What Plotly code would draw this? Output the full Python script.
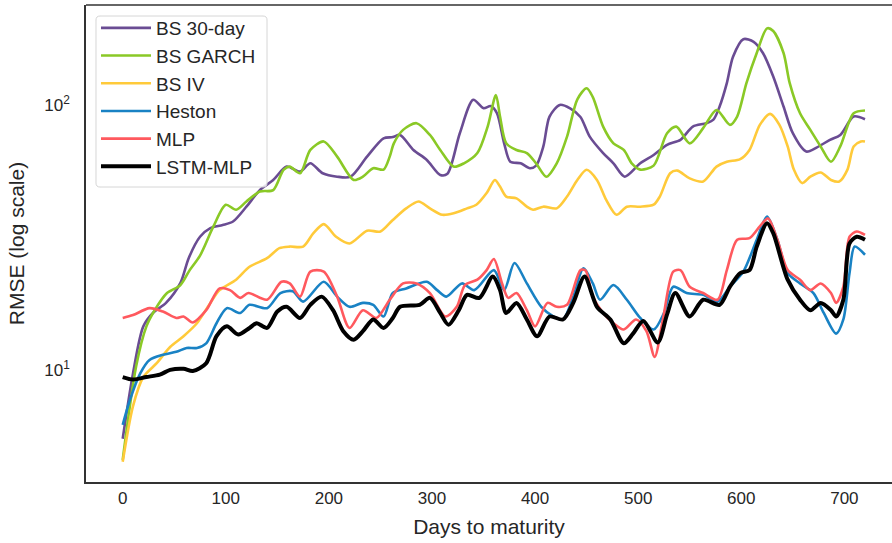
import plotly.graph_objects as go

# ---- data (days to maturity, RMSE) ----
bs30_days = [0, 10, 20, 30, 42, 56, 64, 75, 85, 97, 107, 120, 133, 146, 159, 172, 182, 194, 208, 221, 237, 253, 262, 269, 282, 295, 308, 315, 327, 340, 350, 357, 363, 370, 376, 386, 395, 401, 408, 414, 424, 434, 444, 453, 466, 476, 487, 502, 515, 528, 541, 553, 566, 573, 579, 586, 592, 602, 612, 621, 631, 641, 650, 663, 673, 686, 696, 709, 720]
bs30_rmse = [5.5, 9.7, 14.6, 16.5, 17.9, 21.3, 26.4, 31.8, 34.3, 35.2, 36.3, 41.3, 47.7, 52.1, 58.5, 56, 60.2, 55.2, 53.6, 53.6, 63.8, 74.8, 75.6, 77, 67.6, 62, 54.4, 55, 78.2, 104.5, 97.2, 99, 93, 71.6, 61, 60.2, 57.7, 59, 69.7, 90.3, 100, 97, 90, 75.9, 65.8, 60.2, 53.6, 60.2, 64.7, 70.7, 73.8, 82.8, 85.3, 88, 98.6, 120.8, 152, 177, 173, 157, 128, 98.6, 78.2, 66.7, 69, 73.8, 77, 90.4, 88.3]

garch_days = [0, 13, 23, 31, 43, 56, 65, 75, 88, 100, 110, 120, 133, 146, 156, 162, 172, 182, 195, 208, 224, 233, 243, 253, 259, 263, 272, 285, 298, 308, 321, 331, 344, 354, 362, 366, 372, 382, 392, 401, 411, 421, 431, 441, 450, 456, 466, 476, 486, 494, 502, 515, 528, 537, 550, 563, 576, 589, 596, 605, 615, 625, 631, 641, 647, 657, 667, 677, 687, 696, 709, 720]
garch_rmse = [4.57, 10.3, 14.6, 16.8, 19.5, 20.9, 23.8, 27, 34.8, 42, 40.2, 43.2, 47.1, 47.7, 56.9, 58.5, 55.2, 67.6, 72.8, 63.8, 52.1, 53.6, 57.7, 57, 63.8, 71.6, 80.5, 85.3, 77, 67.6, 58.5, 60.2, 65.8, 82.8, 109, 90.4, 71.6, 67.6, 65.8, 60.2, 53.6, 60.2, 75.9, 105, 115.6, 107, 82.8, 71.6, 67.6, 60, 57, 59, 78.2, 82.8, 71.6, 81.7, 95.7, 84.1, 90.4, 120.8, 157, 194.5, 190, 157, 120.8, 93, 80.5, 69.7, 61, 69.7, 93, 95.3]

iv_days = [0, 10, 20, 33, 46, 59, 72, 85, 94, 110, 123, 140, 152, 162, 175, 185, 195, 207, 220, 237, 250, 262, 275, 287, 298, 310, 321, 334, 343, 353, 361, 366, 372, 382, 392, 398, 408, 421, 431, 441, 450, 460, 469, 479, 489, 502, 515, 521, 531, 538, 550, 563, 576, 586, 599, 608, 618, 628, 637, 645, 651, 659, 667, 677, 687, 695, 703, 709, 716, 720]
iv_rmse = [4.5, 7.3, 9.4, 10.6, 12.2, 13.4, 15, 17.9, 20, 21.9, 24.5, 26.4, 28.8, 29.2, 29.2, 32.8, 35.5, 31.8, 30, 33.5, 33.3, 36.8, 40.7, 43.2, 40.7, 38.5, 39, 40.7, 42, 46.5, 52.1, 49.2, 45.1, 44.4, 41.3, 40.2, 41.3, 40.7, 45.1, 52.1, 56.9, 52.1, 43.8, 38.5, 41.3, 41.3, 42, 45.1, 55.2, 56.5, 52.8, 51.4, 58.5, 61, 62.4, 67.6, 84.1, 92.5, 84.1, 69.7, 57, 50.7, 53.6, 55.6, 52.1, 51.4, 57, 69.7, 72.8, 72.8]

heston_days = [0, 7, 17, 26, 39, 52, 62, 72, 81, 91, 101, 114, 123, 140, 153, 165, 175, 195, 208, 220, 233, 243, 253, 262, 275, 295, 305, 314, 329, 341, 360, 370, 380, 392, 406, 418, 427, 437, 447, 456, 463, 476, 489, 502, 515, 525, 534, 547, 563, 577, 589, 602, 615, 625, 635, 645, 657, 670, 680, 692, 699, 705, 710, 720]
heston_rmse = [6.2, 7.7, 9.7, 10.9, 11.4, 11.7, 12.1, 12.1, 12.6, 15, 17.1, 16.4, 17.6, 17.1, 19.5, 19.8, 18.1, 21.5, 18.9, 17.3, 17.9, 17.6, 15.9, 19.5, 20.3, 21.5, 20, 18.9, 21.2, 20, 23.8, 20, 25.3, 21.2, 17.3, 15.9, 15.5, 18.9, 24.2, 21.2, 18.4, 20.9, 18.4, 15.7, 14.2, 16.4, 20.6, 19.5, 19.2, 18.1, 20.6, 23.5, 31, 37.9, 31, 23.2, 21.2, 19.5, 16.4, 13.7, 15.5, 23.2, 29.2, 27.2]

mlp_days = [0, 10, 26, 39, 52, 59, 68, 81, 94, 104, 114, 122, 140, 154, 162, 172, 182, 195, 208, 220, 233, 246, 259, 272, 285, 298, 313, 324, 332, 344, 353, 360, 368, 374, 382, 392, 400, 412, 421, 431, 444, 449, 456, 466, 476, 486, 498, 508, 516, 524, 534, 541, 550, 563, 577, 586, 596, 608, 618, 626, 635, 645, 657, 667, 677, 687, 692, 699, 705, 712, 720]
mlp_rmse = [15.7, 16.1, 17.1, 16.6, 15.7, 15.9, 15.1, 16.8, 20.3, 20, 18.7, 19.5, 18.4, 21.5, 21.2, 18.9, 23.5, 23.5, 18.9, 14.4, 16.8, 15.7, 18.4, 21.2, 21.2, 19.5, 15.9, 17.3, 20.9, 21.9, 23.8, 26.2, 21.2, 18.7, 19.5, 16.8, 14.6, 17.9, 17.3, 17.6, 23.8, 23.7, 18.9, 16.4, 15, 14.2, 15.5, 14, 11.2, 15.5, 23.5, 23.8, 20.6, 19.5, 18.4, 23.8, 31, 31.4, 34.8, 37.3, 31, 23.8, 21.9, 20, 21.2, 19.5, 17.9, 20.6, 31.8, 33.3, 32.3]

lstm_days = [0, 10, 23, 36, 46, 59, 68, 81, 91, 101, 112, 123, 130, 140, 150, 159, 172, 182, 193, 204, 214, 224, 233, 243, 253, 262, 269, 288, 298, 308, 316, 326, 334, 346, 359, 366, 372, 382, 392, 402, 414, 427, 437, 448, 460, 473, 486, 495, 505, 519, 528, 536, 550, 563, 579, 589, 599, 608, 615, 625, 631, 645, 657, 667, 677, 687, 692, 699, 705, 712, 720]
lstm_rmse = [9.4, 9.2, 9.4, 9.6, 10, 10.1, 9.9, 10.6, 13.4, 14.6, 13.6, 14.4, 15, 14.4, 16.6, 17.3, 15.7, 17.6, 18.9, 16.8, 14, 13, 14, 15.5, 14.4, 15.7, 17.3, 17.6, 18.7, 16.4, 14.8, 16.8, 19.2, 18.7, 22.5, 20, 16.4, 17.9, 15.5, 13.4, 15.9, 15.5, 17.9, 22.5, 17.3, 15.5, 12.6, 13.7, 15.3, 12.7, 16.2, 19.5, 15.9, 18.4, 17.6, 20.6, 23.2, 23.8, 29.2, 35.8, 32.8, 21.9, 18.4, 16.8, 17.9, 16.8, 15.9, 18.4, 30, 31.8, 31]

series_names = ["BS 30-day", "BS GARCH", "BS IV", "Heston", "MLP", "LSTM-MLP"]
series_colors = ["#6A4C93", "#8AC926", "#FFCA3A", "#1982C4", "#FF595E", "#000000"]
series_widths = [2.6, 2.6, 2.6, 2.6, 2.6, 4]
series_x = [bs30_days, garch_days, iv_days, heston_days, mlp_days, lstm_days]
series_y = [bs30_rmse, garch_rmse, iv_rmse, heston_rmse, mlp_rmse, lstm_rmse]

x_ticks = [0, 100, 200, 300, 400, 500, 600, 700]
y_ticks = [10, 100]
y_ticktext = ["10<sup>1</sup>", "10<sup>2</sup>"]

FONT = "Liberation Sans, Arial, sans-serif"
TXT = "#262626"

fig = go.Figure()
for i, (nm, c, w, xs, ys) in enumerate(zip(series_names, series_colors, series_widths, series_x, series_y)):
    fig.add_trace(go.Scatter(
        x=xs, y=ys, mode="lines", name=nm, legendgroup=f"g{i}",
        line=dict(color=c, width=w, shape="spline", smoothing=0.8),
    ))

# legend frame (rounded rectangle) in paper coordinates
x0, x1, y0, y1 = 0.0124, 0.2246, 0.6184, 0.9769
rx, ry = 0.005, 0.0084
frame_path = (f"M{x0+rx},{y1} L{x1-rx},{y1} Q{x1},{y1} {x1},{y1-ry} "
              f"L{x1},{y0+ry} Q{x1},{y0} {x1-rx},{y0} L{x0+rx},{y0} "
              f"Q{x0},{y0} {x0},{y0+ry} L{x0},{y1-ry} Q{x0},{y1} {x0+rx},{y1} Z")

fig.update_layout(
    width=892, height=543,
    margin=dict(l=86, r=0, t=5, b=61),
    plot_bgcolor="white", paper_bgcolor="white",
    font=dict(family=FONT, color=TXT, size=17),
    showlegend=True,
    legend=dict(
        x=0.0124, y=0.9916, xanchor="left", yanchor="top",
        bgcolor="rgba(0,0,0,0)", borderwidth=0,
        font=dict(family=FONT, size=19, color=TXT),
        tracegroupgap=0, itemwidth=50,
    ),
    xaxis=dict(
        range=[-35.6, 746.2], showgrid=False, zeroline=False,
        showline=True, linecolor="#333333", linewidth=1.5,
        tickvals=x_ticks, ticks="", tickfont=dict(size=17),
        title=dict(text="Days to maturity", font=dict(size=21), standoff=12),
    ),
    yaxis=dict(
        type="log", range=[0.577, 2.377], showgrid=False, zeroline=False,
        showline=True, linecolor="#333333", linewidth=1.5,
        tickvals=y_ticks, ticktext=y_ticktext, ticks="", tickfont=dict(size=17),
        ticklabelstandoff=11,
        title=dict(text="RMSE (log scale)", font=dict(size=21), standoff=14),
    ),
    shapes=[
        dict(type="line", xref="paper", yref="paper", x0=0, x1=1, y0=1, y1=1,
             line=dict(color="#333333", width=1.5)),
        dict(type="path", xref="paper", yref="paper", path=frame_path, layer="above",
             fillcolor="rgba(255,255,255,0.85)", line=dict(color="#d6d6d6", width=1)),
    ],
)

fig.write_html("out.html")
